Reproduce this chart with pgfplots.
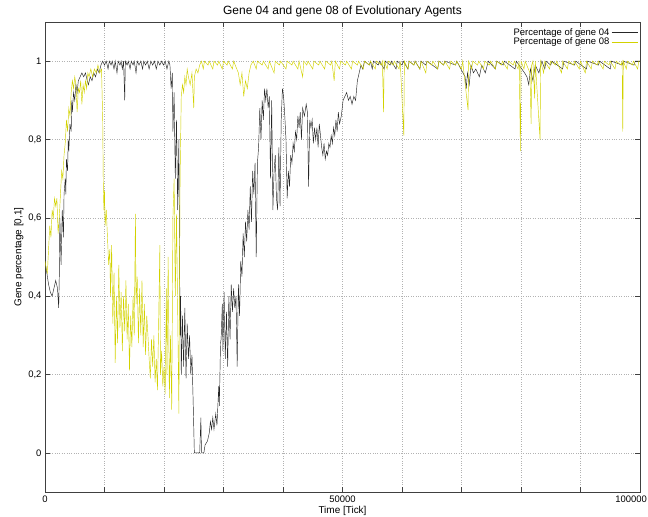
\documentclass[border=0pt]{standalone}
\usepackage{fontspec}
\setmainfont{Liberation Sans}
\usepackage{pgfplots}
\pgfplotsset{compat=1.18}
\definecolor{geneyellow}{RGB}{210,210,0}
\begin{document}
\begin{tikzpicture}
\begin{axis}[
  scale only axis, width=595bp, height=470bp,
  xmin=0, xmax=100000, ymin=-0.1, ymax=1.1,
  xtick={0,10000,...,100000},
  xticklabels={0,,,,,50000,,,,,\makebox[14bp][r]{100000}},
  scaled x ticks=false,
  ytick={0,0.2,0.4,0.6,0.8,1},
  yticklabels={0,{0,2},{0,4},{0,6},{0,8},1},
  tick align=inside, major tick length=5bp,
  axis line style={black!75, line width=0.6bp},
  tick style={black!75, line width=0.5bp},
  grid=major, major grid style={dotted, black!30, line width=0.5bp},
  title={Gene 04 and gene 08 of Evolutionary Agents},
  title style={font=\fontsize{12}{14}\selectfont, yshift=-4bp},
  xlabel={Time [Tick]}, ylabel={Gene percentage [0,1]},
  label style={font=\fontsize{10}{12}\selectfont},
  xlabel style={yshift=3bp},
  ylabel style={yshift=-2bp},
  tick label style={font=\fontsize{9.5}{11}\selectfont},
  legend style={at={(1,1)}, anchor=north east, draw=none, fill=none,
    font=\fontsize{9.5}{10}\selectfont, inner sep=2bp, row sep=-2.5bp, yshift=-2bp},
  legend plot pos=right, legend cell align=right,
  legend image code/.code={\draw[#1] (0bp,0bp) -- (26bp,0bp);},
]
\coordinate (SW) at (rel axis cs:0,0);
\addplot[black!85, line width=0.45bp] coordinates {
(0,0.49)(300,0.46)(600,0.43)(900,0.41)(1200,0.40)(1500,0.42)(1800,0.44)(2100,0.42)(2300,0.37)(2400,0.45)
(2500,0.60)(2700,0.48)(2900,0.62)(3100,0.55)(3200,0.66)(3400,0.70)(3500,0.66)(3600,0.75)(3800,0.72)(3900,0.80)
(4000,0.77)(4200,0.84)(4400,0.82)(4500,0.90)(4600,0.87)(4800,0.92)(5000,0.90)(5200,0.94)(5400,0.92)(5600,0.95)
(5900,0.96)(6200,0.97)(6500,0.96)(6800,0.97)(7100,0.95)(7300,0.94)(7600,0.96)(7900,0.95)(8200,0.97)(8500,0.96)
(8800,0.98)(9100,0.97)(9400,0.99)(9700,1.00)(10000,0.99)(10300,1.00)(10600,0.98)(10800,1.00)(11100,0.99)(11300,1.00)
(11600,0.98)(11800,1.00)(12100,0.97)(12300,1.00)(12600,0.99)(12800,1.00)(13000,0.98)(13200,1.00)(13400,0.90)(13500,1.00)
(13800,0.99)(14000,1.00)(14300,0.98)(14500,1.00)(14800,0.99)(15000,1.00)(15300,0.97)(15500,1.00)(15800,0.99)(16100,1.00)
(16400,0.98)(16600,1.00)(16900,0.99)(17200,1.00)(17500,0.98)(17800,1.00)(18100,0.99)(18400,1.00)(18700,0.98)(19000,1.00)
(19300,0.99)(19600,1.00)(19900,0.99)(20200,1.00)(20500,0.98)(20800,1.00)(21000,0.99)(21200,0.93)(21400,0.97)(21500,0.82)
(21700,0.92)(21900,0.70)(22100,0.85)(22300,0.62)(22500,0.80)(22700,0.30)(22800,0.40)(22900,0.20)(23100,0.35)(23300,0.22)
(23500,0.37)(23700,0.19)(23900,0.33)(24100,0.24)(24300,0.30)(24500,0.20)(24700,0.25)(24900,0.13)(25100,0.00)(26000,0.00)
(26200,0.09)(26300,0.00)(26700,0.00)(26900,0.02)(27300,0.03)(27600,0.05)(27800,0.08)(28000,0.06)(28200,0.09)(28400,0.06)
(28700,0.10)(28900,0.07)(29200,0.17)(29300,0.12)(29500,0.28)(29600,0.29)(29800,0.38)(29900,0.26)(30100,0.41)(30300,0.24)
(30500,0.36)(30700,0.22)(30900,0.40)(31100,0.29)(31300,0.43)(31500,0.36)(31700,0.42)(31900,0.37)(32100,0.40)(32300,0.22)
(32500,0.43)(32700,0.35)(32900,0.49)(33100,0.45)(33300,0.56)(33500,0.50)(33700,0.59)(33900,0.54)(34100,0.62)(34300,0.57)
(34500,0.68)(34700,0.59)(34900,0.72)(35100,0.66)(35300,0.74)(35500,0.50)(35700,0.74)(35900,0.78)(36100,0.88)(36300,0.80)
(36500,0.90)(36700,0.85)(36900,0.93)(37100,0.90)(37300,0.93)(37500,0.88)(37700,0.91)(37900,0.70)(38100,0.90)(38300,0.62)
(38500,0.72)(38700,0.76)(38900,0.65)(39100,0.62)(39300,0.78)(39500,0.63)(39700,0.85)(39900,0.93)(40100,0.91)(40300,0.86)
(40500,0.80)(40700,0.65)(40900,0.72)(41100,0.68)(41300,0.76)(41500,0.74)(41700,0.79)(41900,0.77)(42100,0.82)(42300,0.80)
(42500,0.86)(42700,0.83)(42900,0.87)(43100,0.80)(43300,0.88)(43600,0.86)(43900,0.89)(44100,0.87)(44300,0.68)(44500,0.85)
(44700,0.83)(44900,0.85)(45100,0.79)(45300,0.83)(45500,0.80)(45700,0.83)(45900,0.78)(46100,0.84)(46300,0.81)(46500,0.78)
(46700,0.76)(46900,0.79)(47100,0.75)(47300,0.77)(47500,0.76)(47700,0.79)(47900,0.78)(48100,0.81)(48300,0.79)(48500,0.83)
(48700,0.81)(48900,0.85)(49100,0.82)(49300,0.87)(49500,0.84)(49800,0.86)(50100,0.90)(50400,0.91)(50700,0.92)(51000,0.90)
(51300,0.91)(51600,0.89)(51900,0.91)(52200,0.90)(52500,0.95)(52800,0.97)(53100,0.99)(53400,0.98)(53700,1.00)
(54500,0.99)(54700,1.00)(55000,0.98)(55200,1.00)(56000,0.99)(56200,1.00)(57000,0.98)(57200,1.00)(58000,0.99)(58200,1.00)
(59000,0.98)(59200,1.00)(60000,0.99)(60200,1.00)(61000,0.98)(61200,1.00)(62000,0.99)(62200,1.00)(63000,0.98)(63200,1.00)
(64000,0.99)(64200,1.00)(66000,0.98)(66200,1.00)(67000,0.99)(67200,1.00)(69000,0.99)(69200,1.00)(70600,0.96)(70800,0.93)
(71000,0.97)(71300,0.94)(71600,0.99)(72000,0.97)(72400,0.98)(73000,0.96)(73400,0.99)(74000,0.97)(74500,1.00)(75700,0.98)
(75900,1.00)(77000,0.99)(77200,1.00)(79000,0.98)(79200,1.00)(80600,0.97)(81000,0.96)(81300,0.94)(81600,0.98)(82000,0.95)
(82400,0.99)(83000,0.97)(83500,1.00)(84000,0.98)(84200,1.00)(85000,0.99)(85200,1.00)(87000,0.98)(87200,1.00)(89000,0.99)
(89200,1.00)(91000,0.98)(91200,1.00)(93000,0.99)(93200,1.00)(95000,0.98)(95200,1.00)(97000,0.99)(97200,1.00)(99000,0.99)
(99200,1.00)(100000,1.00)
};
\addlegendentry{Percentage of gene 04}
\addplot[geneyellow, line width=0.45bp] coordinates {
(0,0.49)(200,0.47)(400,0.46)(600,0.52)(800,0.58)(1000,0.55)(1200,0.62)(1400,0.60)(1600,0.65)(1800,0.63)
(2000,0.65)(2200,0.56)(2400,0.60)(2600,0.66)(2800,0.72)(3000,0.70)(3200,0.76)(3400,0.79)(3600,0.85)(3800,0.82)
(4000,0.88)(4200,0.86)(4400,0.92)(4600,0.95)(4800,0.93)(5000,0.96)(5200,0.94)(5400,0.87)(5600,0.93)(5800,0.92)
(6000,0.95)(6200,0.89)(6400,0.94)(6600,0.92)(6800,0.95)(7000,0.93)(7200,0.97)(7400,0.96)(7700,0.98)(8000,0.96)
(8300,0.98)(8600,0.97)(8900,0.99)(9200,0.97)(9500,0.98)(9700,0.85)(9800,0.68)(9900,0.62)(10000,0.67)(10100,0.58)
(10300,0.62)(10500,0.55)(10700,0.48)(10900,0.52)(11000,0.40)(11200,0.53)(11400,0.33)(11600,0.46)(11800,0.23)(12000,0.40)
(12200,0.28)(12400,0.48)(12600,0.32)(12800,0.41)(13000,0.26)(13200,0.40)(13400,0.31)(13600,0.44)(13800,0.29)(14000,0.38)
(14200,0.21)(14400,0.35)(14600,0.27)(14800,0.40)(15000,0.30)(15200,0.61)(15300,0.38)(15500,0.45)(15700,0.28)(15900,0.42)
(16100,0.30)(16300,0.44)(16500,0.27)(16700,0.38)(16900,0.25)(17100,0.35)(17300,0.30)(17500,0.24)(17700,0.19)(17900,0.29)
(18100,0.22)(18300,0.30)(18500,0.18)(18700,0.24)(18900,0.16)(19100,0.33)(19300,0.53)(19400,0.20)(19600,0.26)(19800,0.17)
(20000,0.22)(20200,0.15)(20400,0.42)(20500,0.20)(20700,0.50)(20900,0.14)(21100,0.30)(21300,0.11)(21500,0.60)(21700,0.70)
(21900,0.40)(22100,0.61)(22300,0.36)(22500,0.10)(22700,0.70)(22900,0.91)(23100,0.94)(23300,0.92)(23500,0.96)(23700,0.94)
(23900,0.98)(24100,0.96)(24400,0.94)(24700,0.97)(25000,0.88)(25100,0.96)(25400,0.98)(25700,0.97)(26000,0.99)(26300,1.00)
(26600,0.98)(26800,1.00)(27400,0.99)(27600,1.00)(28200,0.98)(28400,1.00)(29000,0.99)(29200,1.00)(29800,0.98)(30000,1.00)
(30600,0.99)(30800,1.00)(31500,0.98)(31700,1.00)(32500,0.97)(32800,0.94)(33100,0.97)(33400,0.91)(33700,0.95)(34000,0.93)
(34300,0.97)(34600,0.99)(35000,1.00)(35500,0.98)(35700,1.00)(36500,0.99)(36700,1.00)(37500,0.98)(37700,1.00)(38500,0.97)
(38700,1.00)(39400,0.99)(39600,1.00)(40500,0.98)(40700,1.00)(41500,0.99)(41700,1.00)(42500,0.98)(42700,1.00)(43300,0.96)
(43500,1.00)(44000,0.99)(44200,1.00)(45000,0.98)(45200,1.00)(46000,0.99)(46200,1.00)(47000,0.98)(47200,1.00)(48000,0.99)
(48200,1.00)(48600,0.95)(48800,1.00)(49500,0.98)(49700,1.00)(50500,0.99)(50700,1.00)(51500,0.98)(51700,1.00)(52500,0.99)
(52700,1.00)(53500,0.98)(53700,1.00)(54500,0.99)(54700,1.00)(55500,0.98)(55700,1.00)(56500,0.99)(56700,1.00)(56900,0.87)
(57000,1.00)(57500,0.98)(57700,1.00)(58500,0.99)(58700,1.00)(59500,0.98)(59700,1.00)(60300,0.81)(60400,1.00)(61000,0.98)
(61200,1.00)(62000,0.99)(62200,1.00)(63000,0.98)(63200,1.00)(64000,0.97)(64200,1.00)(65000,0.99)(65200,1.00)(66000,0.98)
(66200,1.00)(67000,0.99)(67200,1.00)(68000,0.98)(68200,1.00)(69000,0.99)(69200,1.00)(70000,0.98)(70200,1.00)(71100,0.875)
(71200,1.00)(71700,0.98)(71900,1.00)(72700,0.99)(72900,1.00)(73700,0.98)(73900,1.00)(74700,0.99)(74900,1.00)(75700,0.98)
(75900,1.00)(76700,0.99)(76900,1.00)(77700,0.98)(77900,1.00)(78700,0.99)(78900,1.00)(79500,0.98)(79700,1.00)(79900,0.77)
(80000,1.00)(80500,0.98)(80700,1.00)(81500,0.97)(81700,0.84)(81800,0.99)(82000,1.00)(82300,0.905)(82400,1.00)(83200,0.80)
(83300,1.00)(83800,0.97)(84000,1.00)(84800,0.98)(85000,1.00)(85800,0.99)(86000,1.00)(86800,0.97)(87000,1.00)(87800,0.98)
(88000,1.00)(88800,0.99)(89000,1.00)(89800,0.98)(90000,1.00)(90800,0.97)(91000,1.00)(91800,0.98)(92000,1.00)(92800,0.99)
(93000,1.00)(93800,0.98)(94000,1.00)(94800,0.99)(95000,1.00)(95800,0.98)(96000,1.00)(96800,0.99)(97000,1.00)(97100,0.82)
(97200,1.00)(97700,0.98)(97900,1.00)(98700,0.99)(98900,1.00)(99600,0.98)(99800,1.00)(100000,1.00)
};
\addlegendentry{Percentage of gene 08}
\end{axis}
\pgfresetboundingbox
\path[use as bounding box] (SW) ++(-45bp,-25bp) rectangle ++(648bp,517bp);
\end{tikzpicture}
\end{document}
